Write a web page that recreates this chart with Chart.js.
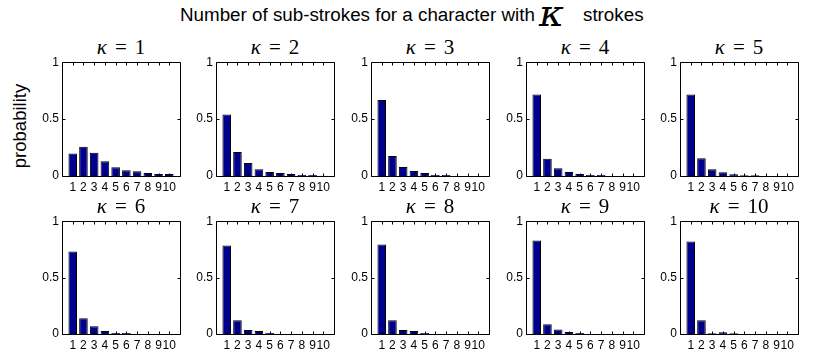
<!DOCTYPE html>
<html>
<head>
<meta charset="utf-8">
<script src="https://cdn.jsdelivr.net/npm/chart.js@4.4.1/dist/chart.umd.min.js"></script>
<style>
  body { margin: 0; background: #fff; }
  #page { position: relative; width: 813px; height: 360px; overflow: hidden; font-family: "Liberation Sans", Arial, sans-serif; color: #000; }
  .head { position: absolute; top: 6px; font-size: 18.8px; line-height: 1; white-space: nowrap; }
  .kappa { position: absolute; left: 539px; top: -6px; font: italic 38px "DejaVu Serif", serif; line-height: 1; }
  #ylabel { position: absolute; left: -30px; top: 116px; width: 100px; height: 20px; line-height: 20px; text-align: center; font-size: 18.5px; transform: rotate(-90deg); }
  .ptitle { position: absolute; text-align: center; font: 21px "Liberation Serif", serif; line-height: 21px; white-space: nowrap; }
  .ptitle .eq { padding: 0 8px; }
  canvas { position: absolute; }
</style>
</head>
<body>
<div id="page">
  <span class="head" style="left:180px">Number of sub-strokes for a character with</span>
  <span class="kappa">κ</span>
  <span class="head" style="left:583px">strokes</span>
  <div id="ylabel">probability</div>
</div>
<script>
// Data
const subStrokes = [1, 2, 3, 4, 5, 6, 7, 8, 9, 10];
const kappas = [1, 2, 3, 4, 5, 6, 7, 8, 9, 10];
const yTicks = [0, 0.5, 1];

const probK1 = [0.198, 0.257, 0.204, 0.130, 0.077, 0.050, 0.041, 0.027, 0.018, 0.018];
const probK2 = [0.541, 0.210, 0.115, 0.059, 0.036, 0.027, 0.018, 0.009, 0.009, 0.003];
const probK3 = [0.667, 0.175, 0.080, 0.044, 0.027, 0.009, 0.009, 0, 0, 0];
const probK4 = [0.717, 0.151, 0.068, 0.036, 0.018, 0.009, 0.009, 0, 0, 0];
const probK5 = [0.717, 0.157, 0.059, 0.033, 0.015, 0.006, 0.006, 0, 0, 0];
const probK6 = [0.732, 0.139, 0.068, 0.027, 0.009, 0.009, 0, 0, 0, 0];
const probK7 = [0.785, 0.121, 0.035, 0.027, 0.009, 0, 0, 0, 0, 0];
const probK8 = [0.794, 0.121, 0.035, 0.027, 0.009, 0, 0, 0, 0, 0];
const probK9 = [0.829, 0.086, 0.041, 0.018, 0.009, 0, 0, 0, 0, 0];
const probK10 = [0.820, 0.121, 0.006, 0.015, 0.006, 0, 0, 0, 0, 0];

const allProbs = [probK1, probK2, probK3, probK4, probK5, probK6, probK7, probK8, probK9, probK10];

// Layout of the 2x5 grid (plot-area boxes)
const colLefts = [62, 216, 371, 526, 680];
const rowTops = [62, 221];
const rowHeights = [114, 113];
const plotWidth = 118;
const yAxisWidth = 40;
const topSpace = 10;
const bottomSpace = 22;

Chart.defaults.font.family = '"Liberation Sans", Arial, sans-serif';
Chart.defaults.font.size = 12;
Chart.defaults.color = '#000';

// MATLAB-like box with inward ticks on all four sides
const boxAxes = {
  id: 'boxAxes',
  afterDatasetsDraw(chart) {
    const { ctx, chartArea: a, scales: { x, y } } = chart;
    const left = Math.round(a.left) + 0.5;
    const right = Math.round(a.right) + 0.5;
    const top = Math.round(a.top) + 0.5;
    const bottom = Math.round(a.bottom) + 0.5;
    ctx.save();
    ctx.strokeStyle = '#000';
    ctx.lineWidth = 1;
    ctx.beginPath();
    subStrokes.forEach(v => {
      const px = Math.round(x.getPixelForValue(v)) + 0.5;
      ctx.moveTo(px, bottom); ctx.lineTo(px, bottom - 3);
      ctx.moveTo(px, top); ctx.lineTo(px, top + 3);
    });
    yTicks.forEach(v => {
      const py = Math.round(y.getPixelForValue(v)) + 0.5;
      ctx.moveTo(left, py); ctx.lineTo(left + 3, py);
      ctx.moveTo(right, py); ctx.lineTo(right - 3, py);
    });
    ctx.rect(left, top, right - left, bottom - top);
    ctx.stroke();
    ctx.restore();
  }
};

// Build one small panel
function makePanel(index) {
  const row = Math.floor(index / 5);
  const col = index % 5;
  const plotH = rowHeights[row];
  const page = document.getElementById('page');

  // panel title, kappa = n
  const title = document.createElement('div');
  title.className = 'ptitle';
  title.style.left = colLefts[col] + 'px';
  title.style.width = plotWidth + 'px';
  title.style.top = (rowTops[row] - 25) + 'px';
  title.innerHTML = '<i>κ</i><span class="eq">=</span>' + kappas[index];
  page.appendChild(title);

  const canvas = document.createElement('canvas');
  canvas.width = yAxisWidth + plotWidth + 4;
  canvas.height = topSpace + plotH + bottomSpace;
  canvas.style.left = (colLefts[col] - yAxisWidth) + 'px';
  canvas.style.top = (rowTops[row] - topSpace) + 'px';
  canvas.style.width = canvas.width + 'px';
  canvas.style.height = canvas.height + 'px';
  page.appendChild(canvas);

  const values = allProbs[index];

  new Chart(canvas, {
    type: 'bar',
    data: {
      datasets: [{
        data: subStrokes.map((s, i) => ({ x: s, y: values[i] })),
        backgroundColor: 'rgb(0, 0, 143)',
        borderColor: '#000',
        borderWidth: 1,
        barPercentage: 0.8,
        categoryPercentage: 1.0
      }]
    },
    options: {
      responsive: false,
      animation: false,
      devicePixelRatio: 1,
      layout: { padding: { top: topSpace, right: 4, bottom: 2, left: 0 } },
      plugins: {
        legend: { display: false },
        tooltip: { enabled: false },
        title: { display: false }
      },
      scales: {
        x: {
          type: 'linear',
          offset: false,
          min: 0,
          max: 11,
          grid: { display: false, drawTicks: false },
          border: { display: false },
          afterBuildTicks: s => { s.ticks = subStrokes.map(v => ({ value: v })); },
          afterFit: s => { s.height = 20; },
          ticks: { autoSkip: false, maxRotation: 0, minRotation: 0, padding: 4 }
        },
        y: {
          min: 0,
          max: 1,
          grid: { display: false, drawTicks: false },
          border: { display: false },
          afterBuildTicks: s => { s.ticks = yTicks.map(v => ({ value: v })); },
          afterFit: s => { s.width = yAxisWidth; },
          ticks: { padding: 3, callback: v => String(v) }
        }
      }
    },
    plugins: [boxAxes]
  });
}

kappas.forEach((k, i) => makePanel(i));
</script>
</body>
</html>
